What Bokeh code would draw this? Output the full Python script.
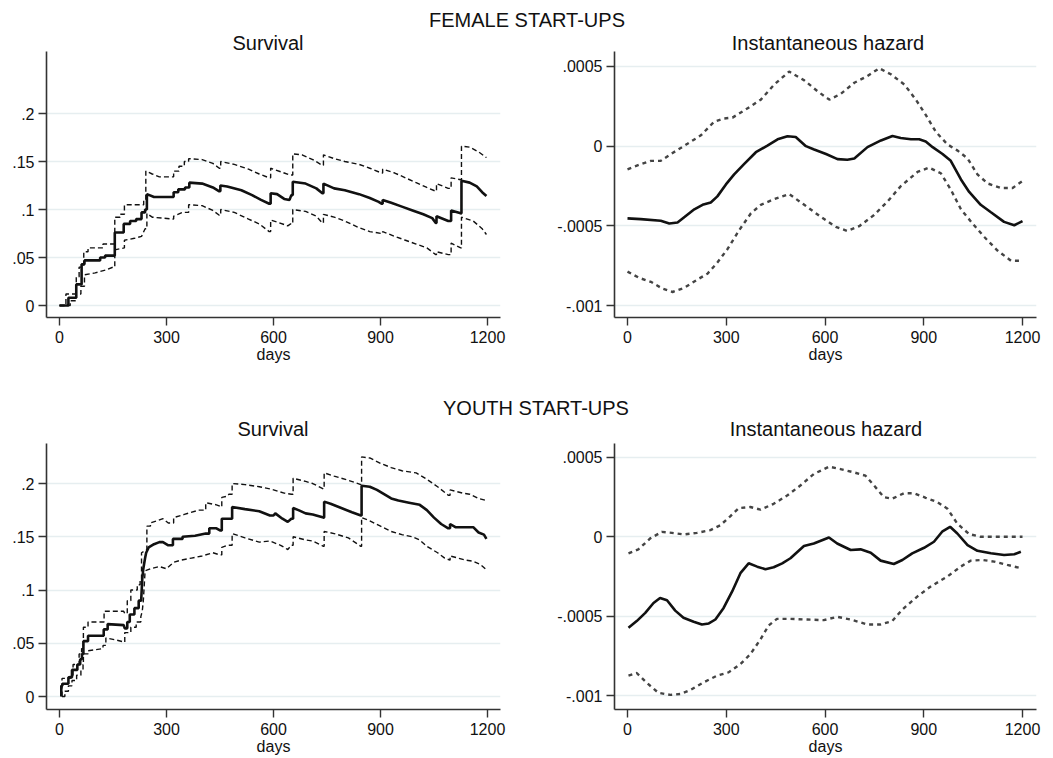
from bokeh.plotting import figure
from bokeh.models import Range1d, FixedTicker, Div
from bokeh.layouts import column, row
from bokeh.embed import file_html
from bokeh.resources import INLINE

# ---------------- data ----------------
group_titles = ["FEMALE START-UPS", "YOUTH START-UPS"]
panel_titles = ["Survival", "Instantaneous hazard"]
x_label = "days"
x_ticks = [0, 300, 600, 900, 1200]
x_tick_labels = ["0", "300", "600", "900", "1200"]
surv_ticks = [0, 0.05, 0.1, 0.15, 0.2]
surv_tick_labels = ["0", ".05", ".1", ".15", ".2"]
haz_ticks = [-0.001, -0.0005, 0, 0.0005]
haz_tick_labels = ["-.001", "-.0005", "0", ".0005"]

# Female start-ups: survival estimate and confidence bounds (day, value)
female_surv = [(0,0),(25,0),(25,0.008),(47,0.008),(47,0.022),(62,0.022),(62,0.043),(70,0.043),(70,0.047),(114,0.047),(114,0.050),(128,0.050),(128,0.052),(155,0.052),(155,0.076),(180,0.076),(180,0.085),(198,0.085),(198,0.088),(215,0.088),(215,0.090),(230,0.090),(230,0.097),(240,0.097),(240,0.100),(245,0.100),(245,0.116),(265,0.113),(320,0.113),(320,0.118),(333,0.118),(333,0.121),(352,0.121),(352,0.123),(364,0.123),(364,0.128),(400,0.127),(430,0.123),(448,0.119),(451,0.119),(451,0.125),(470,0.124),(510,0.120),(540,0.115),(565,0.110),(588,0.106),(592,0.106),(592,0.117),(610,0.116),(630,0.111),(645,0.110),(650,0.115),(654,0.115),(654,0.129),(690,0.127),(720,0.122),(737,0.117),(740,0.117),(740,0.127),(770,0.122),(800,0.120),(840,0.116),(870,0.112),(895,0.108),(903,0.106),(906,0.106),(906,0.110),(930,0.107),(960,0.103),(990,0.099),(1020,0.095),(1045,0.091),(1055,0.086),(1057,0.086),(1057,0.093),(1090,0.088),(1098,0.088),(1098,0.099),(1125,0.096),(1127,0.096),(1127,0.130),(1150,0.128),(1170,0.124),(1185,0.118),(1197,0.114)]
female_surv_hi = [(0,0),(18,0),(18,0.012),(47,0.012),(47,0.030),(55,0.030),(55,0.040),(68,0.040),(68,0.056),(80,0.056),(80,0.060),(122,0.060),(122,0.064),(155,0.064),(155,0.092),(170,0.092),(170,0.095),(182,0.095),(182,0.105),(236,0.105),(236,0.110),(242,0.110),(242,0.140),(260,0.137),(280,0.134),(320,0.134),(320,0.140),(335,0.140),(335,0.145),(350,0.145),(350,0.150),(362,0.150),(362,0.153),(400,0.152),(430,0.148),(448,0.143),(452,0.143),(452,0.150),(490,0.147),(530,0.142),(560,0.137),(588,0.133),(592,0.133),(592,0.143),(630,0.138),(645,0.136),(654,0.136),(654,0.158),(680,0.157),(710,0.152),(737,0.146),(740,0.146),(740,0.157),(770,0.153),(800,0.150),(840,0.147),(870,0.143),(903,0.138),(906,0.138),(906,0.142),(940,0.138),(970,0.133),(1000,0.128),(1030,0.123),(1055,0.119),(1057,0.119),(1057,0.127),(1090,0.122),(1098,0.122),(1098,0.133),(1125,0.131),(1127,0.131),(1127,0.166),(1150,0.165),(1175,0.160),(1197,0.154)]
female_surv_lo = [(0,0),(30,0),(30,0.005),(47,0.005),(47,0.012),(60,0.012),(60,0.020),(70,0.020),(70,0.032),(100,0.034),(130,0.037),(150,0.040),(155,0.040),(155,0.058),(182,0.060),(182,0.068),(210,0.070),(230,0.072),(240,0.080),(245,0.080),(245,0.096),(260,0.092),(320,0.090),(320,0.093),(345,0.097),(362,0.097),(362,0.105),(400,0.104),(430,0.099),(448,0.094),(452,0.094),(452,0.100),(490,0.097),(530,0.090),(560,0.085),(588,0.077),(592,0.077),(592,0.089),(610,0.087),(640,0.083),(648,0.085),(654,0.085),(654,0.100),(690,0.098),(720,0.093),(737,0.086),(740,0.086),(740,0.095),(770,0.092),(800,0.088),(840,0.081),(870,0.077),(903,0.075),(906,0.075),(906,0.077),(940,0.072),(970,0.068),(1000,0.064),(1030,0.060),(1055,0.053),(1057,0.053),(1057,0.056),(1090,0.053),(1098,0.053),(1098,0.065),(1125,0.060),(1127,0.060),(1127,0.092),(1160,0.088),(1185,0.080),(1197,0.074)]

# Female start-ups: instantaneous hazard
female_haz_days = [0,40,101,127,152,203,228,253,273,299,324,354,390,425,456,486,511,542,567,603,638,668,689,729,770,805,830,861,886,906,927,957,982,1013,1038,1073,1104,1144,1175,1200]
female_haz = [-0.000453,-0.000458,-0.000468,-0.000485,-0.000479,-0.000396,-0.000368,-0.000353,-0.000315,-0.000240,-0.000177,-0.000113,-0.000038,0.000004,0.000043,0.000062,0.000058,0.0,-0.000021,-0.000049,-0.000081,-0.000085,-0.000077,-0.000006,0.000036,0.000064,0.000051,0.000043,0.000043,0.000030,-0.000006,-0.000049,-0.000092,-0.000209,-0.000287,-0.000368,-0.000415,-0.000475,-0.000496,-0.000470]
female_haz_hi_days = [0,40,71,101,132,182,223,263,294,319,365,405,446,491,537,577,613,648,689,729,765,800,841,876,906,937,972,1003,1033,1063,1094,1134,1170,1200]
female_haz_hi = [-0.000145,-0.000113,-0.000092,-0.000092,-0.000049,0.000015,0.000068,0.000153,0.000174,0.000179,0.000238,0.000292,0.000387,0.000468,0.000413,0.000345,0.000292,0.000328,0.000398,0.000440,0.000489,0.000451,0.000387,0.000292,0.000196,0.000089,0.000011,-0.000028,-0.000077,-0.000177,-0.000234,-0.000262,-0.000262,-0.000219]
female_haz_lo_days = [0,35,71,106,137,172,213,243,273,304,339,375,405,446,491,537,587,633,668,704,749,790,830,881,916,952,982,1013,1048,1084,1124,1165,1200]
female_haz_lo = [-0.000787,-0.000826,-0.000851,-0.000894,-0.000915,-0.000889,-0.000836,-0.000800,-0.000730,-0.000645,-0.000528,-0.000421,-0.000368,-0.000332,-0.000300,-0.000368,-0.000443,-0.000506,-0.000532,-0.000502,-0.000432,-0.000347,-0.000251,-0.000162,-0.000134,-0.000170,-0.000272,-0.000396,-0.000485,-0.000570,-0.000655,-0.000719,-0.000719]

# Youth start-ups: survival estimate and confidence bounds (day, value)
youth_surv = [(5,0),(5,0.010),(8,0.010),(8,0.012),(25,0.012),(25,0.018),(35,0.018),(35,0.025),(50,0.025),(50,0.030),(58,0.030),(58,0.035),(63,0.035),(63,0.040),(67,0.040),(67,0.052),(80,0.052),(80,0.057),(124,0.057),(124,0.063),(135,0.063),(135,0.068),(180,0.067),(183,0.064),(190,0.064),(190,0.070),(197,0.070),(197,0.077),(210,0.077),(210,0.083),(222,0.083),(222,0.090),(229,0.090),(232,0.110),(235,0.120),(240,0.130),(243,0.135),(250,0.140),(265,0.143),(280,0.145),(290,0.145),(305,0.142),(318,0.142),(318,0.148),(345,0.148),(345,0.150),(380,0.151),(410,0.153),(420,0.153),(420,0.158),(440,0.158),(450,0.156),(455,0.156),(455,0.167),(484,0.167),(484,0.178),(520,0.176),(560,0.174),(590,0.170),(600,0.170),(605,0.172),(625,0.167),(640,0.164),(650,0.167),(655,0.167),(655,0.177),(670,0.175),(690,0.172),(710,0.171),(740,0.168),(742,0.168),(742,0.183),(760,0.181),(790,0.177),(820,0.173),(845,0.170),(847,0.170),(847,0.198),(870,0.197),(890,0.194),(910,0.190),(930,0.186),(950,0.184),(980,0.182),(1010,0.180),(1030,0.175),(1050,0.168),(1070,0.162),(1090,0.158),(1095,0.158),(1095,0.162),(1110,0.159),(1160,0.159),(1175,0.154),(1190,0.152),(1197,0.148)]
youth_surv_hi = [(7,0),(7,0.017),(30,0.017),(30,0.020),(38,0.020),(38,0.030),(55,0.030),(55,0.040),(62,0.040),(62,0.045),(67,0.045),(67,0.065),(80,0.065),(80,0.070),(125,0.070),(125,0.080),(180,0.080),(183,0.078),(190,0.078),(190,0.090),(200,0.090),(200,0.100),(218,0.100),(218,0.105),(226,0.105),(226,0.110),(230,0.110),(230,0.135),(245,0.138),(245,0.160),(255,0.160),(255,0.163),(290,0.167),(305,0.163),(320,0.163),(320,0.168),(350,0.171),(390,0.175),(410,0.175),(410,0.182),(440,0.180),(455,0.178),(455,0.187),(470,0.188),(475,0.190),(484,0.190),(484,0.200),(520,0.199),(560,0.197),(590,0.195),(630,0.191),(650,0.190),(655,0.190),(655,0.205),(690,0.202),(710,0.200),(740,0.195),(742,0.195),(742,0.210),(770,0.207),(810,0.203),(845,0.199),(847,0.199),(847,0.225),(870,0.224),(900,0.219),(930,0.215),(960,0.212),(1000,0.210),(1030,0.204),(1060,0.197),(1090,0.189),(1095,0.189),(1095,0.194),(1130,0.191),(1150,0.190),(1175,0.186),(1197,0.184)]
youth_surv_lo = [(7,0),(15,0),(15,0.005),(25,0.005),(25,0.010),(35,0.010),(35,0.015),(48,0.015),(48,0.020),(60,0.020),(60,0.025),(66,0.025),(66,0.030),(67,0.030),(67,0.040),(80,0.040),(80,0.043),(122,0.045),(122,0.048),(130,0.048),(130,0.055),(160,0.053),(183,0.051),(183,0.060),(200,0.060),(200,0.065),(215,0.065),(215,0.070),(228,0.070),(228,0.075),(232,0.080),(235,0.090),(240,0.118),(255,0.120),(280,0.122),(300,0.120),(320,0.126),(340,0.128),(370,0.130),(400,0.132),(430,0.135),(450,0.133),(455,0.133),(455,0.140),(470,0.142),(484,0.142),(484,0.153),(520,0.149),(560,0.145),(590,0.146),(620,0.142),(640,0.138),(650,0.142),(655,0.142),(655,0.150),(690,0.147),(710,0.146),(740,0.141),(742,0.141),(742,0.155),(770,0.153),(810,0.149),(845,0.141),(847,0.141),(847,0.168),(870,0.165),(900,0.160),(930,0.155),(960,0.152),(990,0.150),(1010,0.147),(1030,0.141),(1060,0.135),(1080,0.130),(1095,0.128),(1095,0.132),(1140,0.128),(1160,0.127),(1180,0.124),(1197,0.119)]

# Youth start-ups: instantaneous hazard
youth_haz_days = [3,28,54,79,99,120,145,170,201,226,247,267,292,318,343,368,394,419,444,470,495,536,566,612,637,678,708,739,769,809,835,865,901,931,957,980,1002,1033,1063,1104,1144,1175,1195]
youth_haz = [-0.000573,-0.000531,-0.000479,-0.000417,-0.000385,-0.000400,-0.000465,-0.000510,-0.000535,-0.000552,-0.000546,-0.000521,-0.000448,-0.000344,-0.000229,-0.000167,-0.000188,-0.000204,-0.000192,-0.000167,-0.000135,-0.000058,-0.000042,-0.000004,-0.000042,-0.000083,-0.000079,-0.000100,-0.000150,-0.000171,-0.000146,-0.000104,-0.000069,-0.000031,0.000035,0.000063,0.000021,-0.000052,-0.000088,-0.000104,-0.000115,-0.000110,-0.000094]
youth_haz_hi_days = [3,33,69,104,135,170,211,252,282,312,338,373,404,444,485,525,566,612,647,688,723,749,779,804,840,870,906,941,972,1002,1038,1073,1134,1200]
youth_haz_hi = [-0.000104,-0.000079,-0.000010,0.000031,0.000025,0.000015,0.000025,0.000042,0.000073,0.000129,0.000181,0.000188,0.000171,0.000208,0.000260,0.000323,0.000396,0.000442,0.000427,0.000406,0.000385,0.000323,0.000250,0.000240,0.000275,0.000275,0.000246,0.000219,0.000177,0.000083,0.000017,0.0,0.0,0.0]
youth_haz_lo_days = [3,28,59,94,130,160,191,231,272,307,343,373,404,429,454,495,546,596,637,678,728,769,804,835,881,921,972,1012,1043,1078,1114,1154,1195]
youth_haz_lo = [-0.000875,-0.000858,-0.000921,-0.000983,-0.000996,-0.000990,-0.000965,-0.000917,-0.000875,-0.000854,-0.000802,-0.000740,-0.000646,-0.000558,-0.000517,-0.000517,-0.000521,-0.000525,-0.000504,-0.000521,-0.000552,-0.000552,-0.000531,-0.000458,-0.000375,-0.000313,-0.000250,-0.000188,-0.000150,-0.000146,-0.000156,-0.000177,-0.000198]

# ---------------- styling ----------------
FONT = "Liberation Sans"
TEXT = "#111111"
AXC = "#333333"
GRID = "#e6eef0"
TICK_FS = "16px"
TITLE_FS = 20


def unzip(pairs):
    return [a for a, _ in pairs], [b for _, b in pairs]


def make_fig(w, h, xr, yr, yticks, ylabels, bl, br, bb):
    p = figure(width=w, height=h, title=None,
               x_range=Range1d(*xr), y_range=Range1d(*yr),
               output_backend="svg", toolbar_location=None,
               min_border_left=bl, min_border_right=br,
               min_border_top=0, min_border_bottom=bb,
               outline_line_color=None,
               background_fill_color="white", border_fill_color="white")
    p.xaxis.ticker = FixedTicker(ticks=x_ticks)
    p.xaxis.major_label_overrides = dict(zip(x_ticks, x_tick_labels))
    p.yaxis.ticker = FixedTicker(ticks=yticks)
    p.yaxis.major_label_overrides = dict(zip(yticks, ylabels))
    p.xaxis.axis_label = x_label
    for ax in (p.xaxis, p.yaxis):
        ax.axis_line_color = AXC
        ax.axis_line_width = 1.6
        ax.major_tick_line_color = AXC
        ax.major_tick_line_width = 1.4
        ax.major_tick_in = 0
        ax.major_tick_out = 8
        ax.minor_tick_line_color = None
        ax.major_label_text_font = FONT
        ax.major_label_text_font_size = TICK_FS
        ax.major_label_text_color = TEXT
        ax.axis_label_text_font = FONT
        ax.axis_label_text_font_size = TICK_FS
        ax.axis_label_text_font_style = "normal"
        ax.axis_label_text_color = TEXT
    p.xaxis.major_label_standoff = 5
    p.xaxis.axis_label_standoff = 0
    p.yaxis.major_label_standoff = 4
    p.xgrid.grid_line_color = None
    p.ygrid.grid_line_color = GRID
    p.ygrid.grid_line_width = 1.5
    return p


def surv_panel(h, yr, bb, est, hi, lo):
    p = make_fig(520, h, (-36.45, 1236.45), yr, surv_ticks, surv_tick_labels, 46, 20, bb)
    for pairs in (hi, lo):
        xs, ys = unzip(pairs)
        p.line(xs, ys, line_color="#111111", line_width=1.4, line_dash="5 3")
    xs, ys = unzip(est)
    p.line(xs, ys, line_color="#111111", line_width=2.6)
    return p


def haz_panel(h, yr, bb, dx, est, hdx, hi, ldx, lo):
    p = make_fig(533, h, (-39.5, 1242.5), yr, haz_ticks, haz_tick_labels, 94, 17, bb)
    p.line(hdx, hi, line_color="#444444", line_width=2.4, line_dash="4 4")
    p.line(ldx, lo, line_color="#444444", line_width=2.4, line_dash="4 4")
    p.line(dx, est, line_color="#111111", line_width=2.6)
    return p


def header(h, group, group_cx, group_top, sub_cx, sub_top):
    def span(txt, cx, top):
        return ('<div style="position:absolute;left:%dpx;top:%dpx;width:500px;'
                'text-align:center;white-space:nowrap;font-size:%dpx;line-height:%dpx;">%s</div>'
                % (cx - 250, top, TITLE_FS, TITLE_FS, txt))
    html = ('<div style="position:relative;width:1053px;height:%dpx;'
            'font-family:\'Liberation Sans\',Arial,sans-serif;color:%s;">' % (h, TEXT))
    html += span(group, group_cx, group_top)
    html += span(panel_titles[0], sub_cx[0], sub_top)
    html += span(panel_titles[1], sub_cx[1], sub_top)
    html += '</div>'
    return Div(text=html, width=1053, height=h, margin=(0, 0, 0, 0))


h1 = header(51, group_titles[0], 527, 10, (268, 828), 33)
p_fs = surv_panel(320, (-0.0125, 0.2646), 54, female_surv, female_surv_hi, female_surv_lo)
p_fh = haz_panel(320, (-0.001075, 0.000594), 54, female_haz_days, female_haz,
                 female_haz_hi_days, female_haz_hi, female_haz_lo_days, female_haz_lo)
h2 = header(72, group_titles[1], 536, 27, (273, 826), 48)
p_ys = surv_panel(315, (-0.0122, 0.2376), 49, youth_surv, youth_surv_hi, youth_surv_lo)
p_yh = haz_panel(315, (-0.001088, 0.000588), 49, youth_haz_days, youth_haz,
                 youth_haz_hi_days, youth_haz_hi, youth_haz_lo_days, youth_haz_lo)

layout = column(h1, row(p_fs, p_fh, spacing=0), h2, row(p_ys, p_yh, spacing=0), spacing=0)

with open("out.html", "w") as f:
    f.write(file_html(layout, INLINE))
